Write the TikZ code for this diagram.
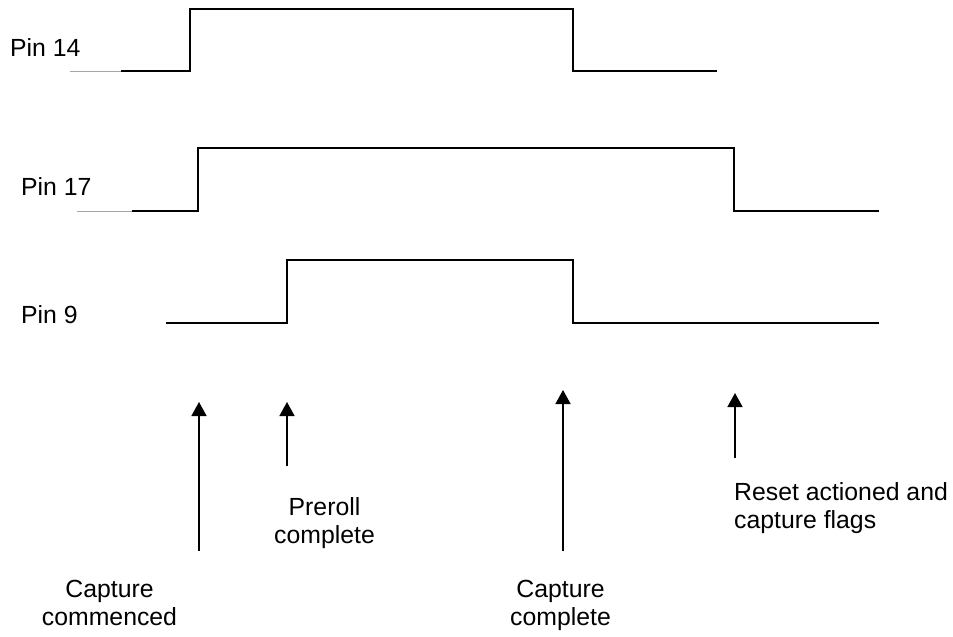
\documentclass[tikz,border=0pt]{standalone}
\usepackage{fontspec}
\setmainfont{Liberation Sans}
\usetikzlibrary{arrows.meta}
\begin{document}
\begin{tikzpicture}[x=1pt,y=-1pt,
  signal/.style={line width=1.6pt,line join=miter},
  lead/.style={line width=0.8pt,gray!70},
  marker/.style={line width=1.5pt,-{Triangle[width=15pt,length=14pt]}},
  lbl/.style={font=\fontsize{24.8}{28.3}\selectfont,inner sep=0pt},
]
\useasboundingbox (0,0) rectangle (953,637);
% labels
\node[lbl,anchor=base west] (p14) at (10,56) {Pin 14};
\node[lbl,anchor=base west] (p17) at (21,195) {Pin 17};
\node[lbl,anchor=base west] (p9) at (21,323) {Pin 9};
% waveforms
\draw[lead] (70,71) -- (121,71);
\draw[signal] (121,71) -- (190,71) -- (190,9) -- (573,9) -- (573,71) -- (717,71);
\draw[lead] (77,211) -- (132,211);
\draw[signal] (132,211) -- (198,211) -- (198,148) -- (734,148) -- (734,211) -- (879,211);
\draw[signal] (166,323) -- (287,323) -- (287,260) -- (573,260) -- (573,323) -- (879,323);
% arrow end points
\coordinate (a1s) at (199,551); \coordinate (a1e) at (199,402);
\coordinate (a2s) at (287,466); \coordinate (a2e) at (287,402);
\coordinate (a3s) at (563,551); \coordinate (a3e) at (563,390);
\coordinate (a4s) at (735,458); \coordinate (a4e) at (735,393);
\draw[marker] (a1s) -- (a1e);
\draw[marker] (a2s) -- (a2e);
\draw[marker] (a3s) -- (a3e);
\draw[marker] (a4s) -- (a4e);
% event labels
\node[lbl,align=center,anchor=north] (capc) at (109.5,580) {Capture\\commenced};
\node[lbl,align=center,anchor=north] (pre) at (324.5,497) {Preroll\\complete};
\node[lbl,align=center,anchor=north] (capd) at (560.5,580) {Capture\\complete};
\node[lbl,align=left,anchor=north west] (rst) at (734,482) {Reset actioned and\\capture flags};
\end{tikzpicture}
\end{document}
